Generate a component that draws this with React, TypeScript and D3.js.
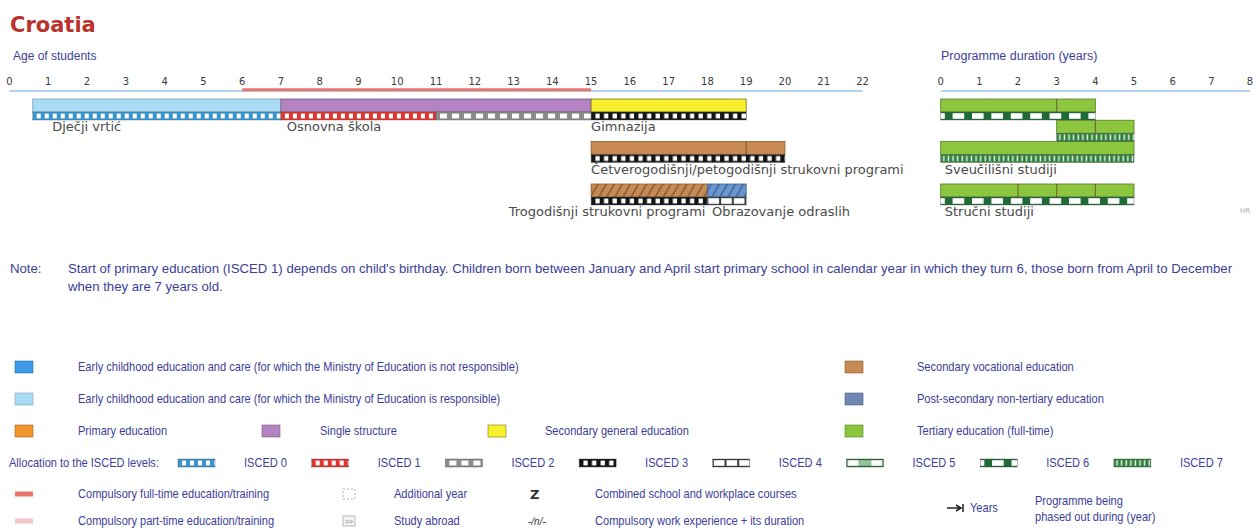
import * as React from 'react';
import {useEffect, useRef} from 'react';
import * as d3 from 'd3';

// tick labels of the two axes
const ageTicks = [0, 1, 2, 3, 4, 5, 6, 7, 8, 9, 10, 11, 12, 13, 14, 15, 16, 17, 18, 19, 20, 21, 22];
const durationTicks = [0, 1, 2, 3, 4, 5, 6, 7, 8];

// compulsory full-time education (ages)
const compulsoryFullTime = [6, 15];

// programmes on the age scale (slot = vertical position of the row)
const ageBars = [
  {label: 'Dječji vrtić', slot: 0, start: 0.6, end: 7, kind: 'ececResp', labelAt: 1.1, anchor: 'start'},
  {label: 'Osnovna škola', slot: 0, start: 7, end: 15, kind: 'single', labelAt: 7.15, anchor: 'start'},
  {label: 'Gimnazija', slot: 0, start: 15, end: 19, kind: 'general', labelAt: 15, anchor: 'start'},
  {label: 'Četverogodišnji/petogodišnji strukovni programi', slot: 2, start: 15, end: 20, kind: 'vocational', labelAt: 15, anchor: 'start'},
  {label: 'Trogodišnji strukovni programi', slot: 4, start: 15, end: 18, kind: 'vocationalHatch', labelAt: 17.95, anchor: 'end'},
  {label: 'Obrazovanje odraslih', slot: 4, start: 18, end: 19, kind: 'postsecHatch', labelAt: 18.12, anchor: 'start'},
];
const ageIsced = [
  {slot: 0, start: 0.6, end: 7, level: 'isced0'},
  {slot: 0, start: 7, end: 11, level: 'isced1'},
  {slot: 0, start: 11, end: 15, level: 'isced2'},
  {slot: 0, start: 15, end: 19, level: 'isced3'},
  {slot: 2, start: 15, end: 20, level: 'isced3'},
  {slot: 4, start: 15, end: 18, level: 'isced3'},
  {slot: 4, start: 18, end: 19, level: 'isced4'},
];
const ageDividers = [{slot: 2, at: 19}];

// tertiary programmes on the duration scale
const durationBars = [
  {label: '', slot: 0, start: 0, end: 4, kind: 'tertiary'},
  {label: '', slot: 1, start: 3, end: 5, kind: 'tertiary'},
  {label: 'Sveučilišni studiji', slot: 2, start: 0, end: 5, kind: 'tertiary'},
  {label: 'Stručni studiji', slot: 4, start: 0, end: 5, kind: 'tertiary'},
];
const durationIsced = [
  {slot: 0, start: 0, end: 4, level: 'isced6'},
  {slot: 1, start: 3, end: 5, level: 'isced7'},
  {slot: 2, start: 0, end: 5, level: 'isced7'},
  {slot: 4, start: 0, end: 5, level: 'isced6'},
];
const durationDividers = [
  {slot: 0, at: 3}, {slot: 1, at: 4}, {slot: 4, at: 2}, {slot: 4, at: 3}, {slot: 4, at: 4},
];

const noteLines = [
  "Start of primary education (ISCED 1) depends on child's birthday. Children born between January and April start primary school in calendar year in which they turn 6, those born from April to December",
  'when they are 7 years old.',
];

// colour legend: row / column in the legend grid
const colourLegend = [
  {key: 'ececNot', label: 'Early childhood education and care (for which the Ministry of Education is not responsible)', row: 0, col: 0},
  {key: 'vocational', label: 'Secondary vocational education', row: 0, col: 3},
  {key: 'ececResp', label: 'Early childhood education and care (for which the Ministry of Education is responsible)', row: 1, col: 0},
  {key: 'postsec', label: 'Post-secondary non-tertiary education', row: 1, col: 3},
  {key: 'primary', label: 'Primary education', row: 2, col: 0},
  {key: 'single', label: 'Single structure', row: 2, col: 1},
  {key: 'general', label: 'Secondary general education', row: 2, col: 2},
  {key: 'tertiary', label: 'Tertiary education (full-time)', row: 2, col: 3},
];
const iscedLegend = ['isced0', 'isced1', 'isced2', 'isced3', 'isced4', 'isced5', 'isced6', 'isced7'];
const iscedLabels = ['ISCED 0', 'ISCED 1', 'ISCED 2', 'ISCED 3', 'ISCED 4', 'ISCED 5', 'ISCED 6', 'ISCED 7'];

const fills = {
  ececNot: '#3d9be8',
  ececResp: '#a8dbf5',
  primary: '#f29430',
  single: '#b384c1',
  general: '#f7f02c',
  vocational: '#c88a55',
  postsec: '#7088b3',
  tertiary: '#8cc63f',
  vocationalHatch: 'url(#hatchBrown)',
  postsecHatch: 'url(#hatchBlue)',
};
const strokes = {
  ececNot: '#2c6fa8', ececResp: '#7d9fb3', primary: '#a8661e', single: '#7d5a88', general: '#7a7420',
  vocational: '#8a5c34', postsec: '#4c5e80', tertiary: '#4f7d22', vocationalHatch: '#8a5c34', postsecHatch: '#3f5f8c',
};

const W = 1257;
const H = 529;
const BAR_H = 13;
const STRIP_H = 8;
const textBlue = '#3b3e99';
const sans = "'Liberation Sans', Arial, sans-serif";
const verdana = "'DejaVu Sans', Verdana, sans-serif";

const App = () => {
  const chartRef = useRef(null);

  useEffect(() => {
    const svg = d3.select(chartRef.current);
    svg.selectAll('*').remove();

    const xAge = d3.scaleLinear().domain([0, 22]).range([9.5, 862.5]);
    const xDur = d3.scaleLinear().domain([0, 8]).range([940.7, 1250]);
    const slotY = d3.scaleLinear().domain([0, 1]).range([99, 120.25]);

    // ---- patterns
    const defs = svg.append('defs');
    const stripPattern = (id, w, bg, blocks, offset = 0) => {
      const p = defs.append('pattern').attr('id', id)
        .attr('patternUnits', 'userSpaceOnUse')
        .attr('x', offset)
        .attr('width', w).attr('height', STRIP_H);
      p.append('rect').attr('width', w).attr('height', STRIP_H).attr('fill', bg);
      blocks.forEach((b) => {
        p.append('rect')
          .attr('x', b[0]).attr('width', b[1])
          .attr('y', b[2] ?? 1.6).attr('height', b[3] ?? 4.8)
          .attr('fill', b[4] ?? '#fff');
      });
    };
    stripPattern('isced0', 8, '#3896d2', [[4, 4]]);
    stripPattern('isced1', 8, '#e0352f', [[4, 4]]);
    stripPattern('isced2', 12, '#8c8c8c', [[4, 7]]);
    stripPattern('isced3', 8.6, '#141414', [[4.3, 4.3]]);
    stripPattern('isced4', 12.7, '#3a3a3a', [[1, 10.7, 1.2, 5.6]]);
    stripPattern('isced5', 37, '#2b6b3a', [[1.2, 11, 1.2, 5.6], [12.2, 12.4, 1.2, 5.6, '#8fc597'], [24.6, 11.2, 1.2, 5.6]]);
    stripPattern('isced6', 19.4, '#1f6a36', [[0, 11.6, 1.2, 5.6]], -7.5);
    stripPattern('isced7', 4.6, '#2f7f3c', [[2.4, 1.5, 1.2, 5.6, '#e8f3e0']]);

    const hatch = (id, bg, line) => {
      const p = defs.append('pattern').attr('id', id)
        .attr('patternUnits', 'userSpaceOnUse')
        .attr('width', 7).attr('height', 7)
        .attr('patternTransform', 'rotate(30)');
      p.append('rect').attr('width', 7).attr('height', 7).attr('fill', bg);
      p.append('line').attr('x1', 1).attr('x2', 1).attr('y1', 0).attr('y2', 7)
        .attr('stroke', line).attr('stroke-width', 1.3);
    };
    hatch('hatchBrown', '#c88a55', '#7a4f2c');
    hatch('hatchBlue', '#6a95cd', '#2f5a94');

    // ---- title and axis captions
    svg.append('text').attr('x', 10).attr('y', 32)
      .style('font-family', verdana).style('font-weight', 'bold').style('font-size', '21px')
      .attr('fill', '#bb322c').text('Croatia');

    svg.append('text').attr('x', 13).attr('y', 60)
      .style('font-family', sans).style('font-size', '12px').attr('fill', textBlue)
      .text('Age of students');
    svg.append('text').attr('x', 941).attr('y', 60)
      .style('font-family', sans).style('font-size', '12.5px').attr('fill', textBlue)
      .text('Programme duration (years)');

    // ---- axes
    const drawAxis = (x, ticks) => {
      const g = svg.append('g');
      g.append('line')
        .attr('x1', x(ticks[0])).attr('x2', x(ticks[ticks.length - 1]))
        .attr('y1', 91).attr('y2', 91)
        .attr('stroke', '#b5d1ee').attr('stroke-width', 2);
      g.selectAll('text').data(ticks).enter().append('text')
        .attr('x', (d) => x(d)).attr('y', 85)
        .attr('text-anchor', 'middle')
        .style('font-family', verdana).style('font-size', '10px')
        .attr('fill', '#3a3a3a').text((d) => d);
      return g;
    };
    drawAxis(xAge, ageTicks);
    drawAxis(xDur, durationTicks);

    svg.append('line')
      .attr('x1', xAge(compulsoryFullTime[0])).attr('x2', xAge(compulsoryFullTime[1]))
      .attr('y1', 89.8).attr('y2', 89.8)
      .attr('stroke', '#e8766c').attr('stroke-width', 3);

    // ---- bars
    const drawBars = (x, bars, strips, dividers) => {
      const g = svg.append('g');
      g.selectAll('rect.bar').data(bars).enter().append('rect')
        .attr('class', 'bar')
        .attr('x', (d) => x(d.start)).attr('y', (d) => slotY(d.slot))
        .attr('width', (d) => x(d.end) - x(d.start)).attr('height', BAR_H)
        .attr('fill', (d) => fills[d.kind])
        .attr('stroke', (d) => strokes[d.kind]).attr('stroke-width', 0.8);

      strips.forEach((s) => {
        g.append('g')
          .attr('transform', `translate(${x(s.start)},${slotY(s.slot) + BAR_H})`)
          .append('rect')
          .attr('width', x(s.end) - x(s.start)).attr('height', STRIP_H)
          .attr('fill', `url(#${s.level})`)
          .attr('stroke', '#555').attr('stroke-width', 0.4);
      });

      g.selectAll('line.div').data(dividers).enter().append('line')
        .attr('class', 'div')
        .attr('x1', (d) => x(d.at)).attr('x2', (d) => x(d.at))
        .attr('y1', (d) => slotY(d.slot)).attr('y2', (d) => slotY(d.slot) + BAR_H)
        .attr('stroke', '#6b5030').attr('stroke-width', 0.9);

      g.selectAll('text').data(bars.filter((d) => d.label)).enter().append('text')
        .attr('x', (d) => (d.labelAt != null ? x(d.labelAt) : x(d.start) + 4))
        .attr('y', (d) => slotY(d.slot) + 32)
        .attr('text-anchor', (d) => d.anchor || 'start')
        .style('font-family', verdana).style('font-size', '13px')
        .attr('fill', '#4a4a4a').text((d) => d.label);
    };
    drawBars(xAge, ageBars, ageIsced, ageDividers);
    drawBars(xDur, durationBars, durationIsced, durationDividers);

    svg.append('text').attr('x', 1240).attr('y', 213)
      .style('font-family', verdana).style('font-size', '7px')
      .attr('fill', '#aaa').text('HR');

    // ---- note
    svg.append('text').attr('x', 10).attr('y', 273)
      .style('font-family', sans).style('font-size', '13.2px').attr('fill', textBlue).text('Note:');
    svg.selectAll('text.note').data(noteLines).enter().append('text')
      .attr('class', 'note')
      .attr('x', 68).attr('y', (d, i) => 273 + i * 18)
      .style('font-family', sans).style('font-size', '13.2px').attr('fill', textBlue)
      .text((d) => d);

    // ---- legend (condensed text: regular face squeezed horizontally)
    const rowY = [367, 399, 431, 463, 494, 521];
    const swatchX = [15, 262, 488, 845];
    const labelX = [78, 320, 545, 917];
    const legendText = (x, y, t) => svg.append('text')
      .attr('transform', `translate(${x},${y + 4}) scale(0.885,1)`)
      .style('font-family', sans).style('font-size', '12.5px').attr('fill', textBlue).text(t);

    colourLegend.forEach((d) => {
      svg.append('rect')
        .attr('x', swatchX[d.col]).attr('y', rowY[d.row] - 6)
        .attr('width', 18).attr('height', 12)
        .attr('fill', fills[d.key]).attr('stroke', strokes[d.key]).attr('stroke-width', 0.6);
      legendText(labelX[d.col], rowY[d.row], d.label);
    });

    legendText(9, rowY[3], 'Allocation to the ISCED levels:');
    iscedLegend.forEach((lvl, i) => {
      const px = 178 + i * 133.7;
      svg.append('g').attr('transform', `translate(${px},${rowY[3] - 4})`)
        .append('rect').attr('width', 37).attr('height', STRIP_H)
        .attr('fill', `url(#${lvl})`).attr('stroke', '#444').attr('stroke-width', 0.4);
      legendText(px + 66, rowY[3], iscedLabels[i]);
    });

    // compulsory education swatches
    svg.append('rect').attr('x', 15).attr('y', rowY[4] - 2.5).attr('width', 18).attr('height', 5).attr('fill', '#e8766c');
    legendText(78, rowY[4], 'Compulsory full-time education/training');
    svg.append('rect').attr('x', 15).attr('y', rowY[5] - 2.5).attr('width', 18).attr('height', 5).attr('fill', '#f6c4cb');
    legendText(78, rowY[5], 'Compulsory part-time education/training');

    // additional year / study abroad
    svg.append('rect').attr('x', 343).attr('y', rowY[4] - 5).attr('width', 12).attr('height', 10)
      .attr('fill', 'none').attr('stroke', '#999').attr('stroke-width', 0.8).attr('stroke-dasharray', '2,2');
    legendText(394, rowY[4], 'Additional year');
    svg.append('rect').attr('x', 343).attr('y', rowY[5] - 5).attr('width', 12).attr('height', 10)
      .attr('fill', '#f4f4f4').attr('stroke', '#aaa').attr('stroke-width', 0.8);
    svg.append('text').attr('x', 349).attr('y', rowY[5] + 3).attr('text-anchor', 'middle')
      .style('font-family', sans).style('font-size', '7px').attr('fill', '#777').text('>>');
    legendText(394, rowY[5], 'Study abroad');

    // combined school / work experience
    svg.append('text').attr('x', 530).attr('y', rowY[4] + 5)
      .style('font-family', verdana).style('font-weight', 'bold').style('font-size', '13px')
      .attr('fill', '#333').text('Z');
    legendText(595, rowY[4], 'Combined school and workplace courses');
    svg.append('text').attr('x', 528).attr('y', rowY[5] + 4)
      .style('font-family', sans).style('font-style', 'italic').style('font-size', '10px')
      .attr('fill', '#333').text('-/n/-');
    legendText(595, rowY[5], 'Compulsory work experience + its duration');

    // years arrow
    const ay = 508;
    svg.append('path')
      .attr('d', `M947,${ay} L960,${ay} M956,${ay - 3} L961,${ay} L956,${ay + 3} M963,${ay - 4} L963,${ay + 4}`)
      .attr('fill', 'none').attr('stroke', '#222').attr('stroke-width', 1.5);
    legendText(970, ay, 'Years');
    legendText(1035, 501, 'Programme being');
    legendText(1035, 517, 'phased out during (year)');
  }, []);

  return (
    <svg ref={chartRef} width={W} height={H}
      style={{position: 'absolute', left: 0, top: 0, background: '#fff'}} />
  );
};

export default App;
